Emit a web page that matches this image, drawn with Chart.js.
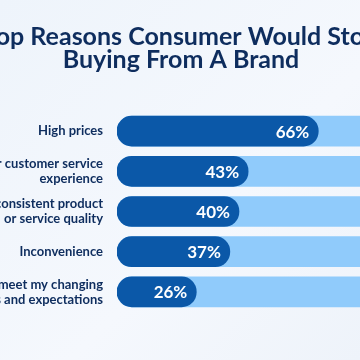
<!DOCTYPE html>
<html>
<head>
<meta charset="utf-8">
<script src="https://cdn.jsdelivr.net/npm/chart.js@4"></script>
<style>
  html, body { margin:0; padding:0; }
  body {
    width:360px; height:360px; overflow:hidden; position:relative;
    background: linear-gradient(135deg, #eef4fb 0%, #f5f8fd 60%, #eef3fa 100%);
  }
  #wrap { position:absolute; left:-60px; top:0; width:484px; height:360px; }
</style>
</head>
<body>
<div id="wrap"><canvas id="grafico"></canvas></div>
<script>
// ---------- Dados ----------
const categorias = [
  'High prices',
  ['Poor customer service', 'experience'],
  ['Inconsistent product', 'or service quality'],
  'Inconvenience',
  ["Doesn't meet my changing", 'needs and expectations']
];
const percentuais = [66, 43, 40, 37, 26];
const fundo = [100, 100, 100, 100, 100];

const AZUL = '#0b58a8';
const AZUL_CLARO = '#90cbfb';
const TEXTO = '#0e2d5e';

// rótulos de porcentagem dentro da barra
const rotulos = {
  id: 'rotulos',
  afterDatasetsDraw(chart){
    const ctx = chart.ctx;
    const meta = chart.getDatasetMeta(1);
    ctx.save();
    ctx.fillStyle = '#ffffff';
    ctx.font = 'bold 17px Lato';
    ctx.textAlign = 'right';
    ctx.textBaseline = 'middle';
    meta.data.forEach((bar, i) => {
      ctx.fillText(percentuais[i] + '%', bar.x - 9, bar.y + 1);
    });
    ctx.restore();
  }
};

new Chart(document.getElementById('grafico'), {
  type: 'bar',
  data: {
    labels: categorias,
    datasets: [
      { data: fundo, backgroundColor: AZUL_CLARO, borderRadius: 15, borderSkipped: false,
        barThickness: 30, grouped: false, order: 2 },
      { data: percentuais, backgroundColor: AZUL, borderRadius: 15, borderSkipped: false,
        barThickness: 30, grouped: false, order: 1 }
    ]
  },
  options: {
    indexAxis: 'y',
    responsive: true,
    maintainAspectRatio: false,
    animation: false,
    layout: { padding: { top: 0, bottom: 48, right: 2 } },
    scales: {
      x: { min: 0, max: 100, display: false },
      y: {
        grid: { display: false, drawTicks: false },
        border: { display: false },
        ticks: { color: TEXTO, font: { family: 'Lato', size: 13, weight: 'bold', lineHeight: 1.15 }, padding: 14 },
        afterFit: (s) => { s.width = 177; }
      }
    },
    plugins: {
      legend: { display: false },
      tooltip: { enabled: false },
      title: {
        display: true,
        text: ['Top Reasons Consumer Would Stop', 'Buying From A Brand'],
        color: TEXTO,
        font: { family: 'Lato', size: 25, weight: 'bold', lineHeight: 0.92 },
        padding: { top: 25, bottom: 40 }
      }
    }
  },
  plugins: [rotulos]
});
</script>
</body>
</html>
